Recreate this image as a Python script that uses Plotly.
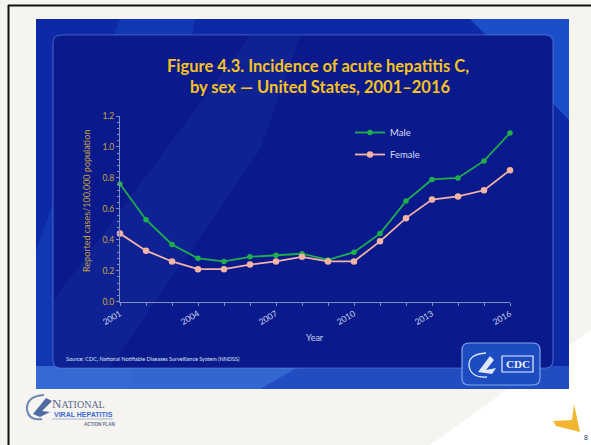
import plotly.graph_objects as go

years = list(range(2001, 2017))
male = [0.76, 0.53, 0.37, 0.28, 0.26, 0.29, 0.30, 0.31, 0.27, 0.32, 0.44, 0.65, 0.79, 0.80, 0.91, 1.09]
female = [0.44, 0.33, 0.26, 0.21, 0.21, 0.24, 0.26, 0.29, 0.26, 0.26, 0.39, 0.54, 0.66, 0.68, 0.72, 0.85]
x_tick_vals = [2001, 2004, 2007, 2010, 2013, 2016]
y_tick_vals = [0.0, 0.2, 0.4, 0.6, 0.8, 1.0, 1.2]

W, H = 591, 445


def px(x):
    return x / W


def py(y):
    return 1 - y / H


def rrect(x0, y0, x1, y1, r):
    pts = [
        f"M{px(x0 + r)},{py(y0)}",
        f"L{px(x1 - r)},{py(y0)}",
        f"Q{px(x1)},{py(y0)} {px(x1)},{py(y0 + r)}",
        f"L{px(x1)},{py(y1 - r)}",
        f"Q{px(x1)},{py(y1)} {px(x1 - r)},{py(y1)}",
        f"L{px(x0 + r)},{py(y1)}",
        f"Q{px(x0)},{py(y1)} {px(x0)},{py(y1 - r)}",
        f"L{px(x0)},{py(y0 + r)}",
        f"Q{px(x0)},{py(y0)} {px(x0 + r)},{py(y0)}",
        "Z",
    ]
    return " ".join(pts)


def poly(points):
    return "M" + " L".join(f"{px(x)},{py(y)}" for x, y in points) + " Z"


def ann(text, x, y, size, color, family="Lato", xanchor="center", yanchor="middle", **kw):
    return dict(text=text, x=px(x), y=py(y), xref="paper", yref="paper", showarrow=False,
                xanchor=xanchor, yanchor=yanchor, font=dict(family=family, size=size, color=color), **kw)


fig = go.Figure()

fig.add_trace(go.Scatter(
    x=years, y=male, name="Male", mode="lines+markers",
    line=dict(color="#1fae4c", width=1.8),
    marker=dict(color="#1fae4c", size=5.5, symbol="circle"),
    cliponaxis=False, legendgroup="m",
))
fig.add_trace(go.Scatter(
    x=years, y=female, name="Female", mode="lines+markers",
    line=dict(color="#f3b4a6", width=1.8),
    marker=dict(color="#f3b4a6", size=6.5, symbol="circle"),
    cliponaxis=False, legendgroup="f",
))

shapes = []
# slide background
shapes.append(dict(type="rect", xref="paper", yref="paper", x0=0, x1=1, y0=0, y1=1,
                   fillcolor="#f5f4f0", line=dict(width=0), layer="below"))
shapes.append(dict(type="path", xref="paper", yref="paper",
                   path=poly([(250, 445), (591, 445), (591, 330), (430, 445)]),
                   fillcolor="#ffffff", line=dict(width=0), layer="below"))
# black frame lines
shapes.append(dict(type="line", xref="paper", yref="paper", x0=px(8), x1=1, y0=py(5.5), y1=py(5.5),
                   line=dict(color="#111111", width=2), layer="below"))
shapes.append(dict(type="line", xref="paper", yref="paper", x0=px(8.5), x1=px(8.5), y0=py(5), y1=0,
                   line=dict(color="#111111", width=2), layer="below"))
# outer blue panel
shapes.append(dict(type="rect", xref="paper", yref="paper", x0=px(36), x1=px(569), y0=py(389), y1=py(19),
                   fillcolor="#0c2aa6", line=dict(width=0), layer="below"))
shapes.append(dict(type="path", xref="paper", yref="paper",
                   path=poly([(210, 19), (569, 19), (569, 120), (470, 19), (200, 19)]),
                   fillcolor="rgba(40,110,230,0.55)", line=dict(width=0), layer="below"))
shapes.append(dict(type="path", xref="paper", yref="paper",
                   path=poly([(120, 19), (195, 19), (130, 389), (36, 389), (36, 250)]),
                   fillcolor="rgba(30,80,200,0.35)", line=dict(width=0), layer="below"))
shapes.append(dict(type="path", xref="paper", yref="paper",
                   path=poly([(36, 366), (569, 366), (569, 389), (36, 389)]),
                   fillcolor="rgba(60,120,225,0.45)", line=dict(width=0), layer="below"))
shapes.append(dict(type="path", xref="paper", yref="paper",
                   path=poly([(36, 366), (300, 366), (260, 389), (36, 389)]),
                   fillcolor="rgba(90,150,235,0.35)", line=dict(width=0), layer="below"))
# inner panel
shapes.append(dict(type="path", xref="paper", yref="paper",
                   path=rrect(53, 35, 553, 368, 8),
                   fillcolor="#0a1a8c", line=dict(color="rgba(110,140,220,0.55)", width=1.2), layer="below"))
shapes.append(dict(type="path", xref="paper", yref="paper",
                   path=poly([(54, 300), (54, 367), (110, 367), (260, 150), (300, 36), (250, 36)]),
                   fillcolor="rgba(30,60,170,0.25)", line=dict(width=0), layer="below"))
# CDC logo box
shapes.append(dict(type="path", xref="paper", yref="paper",
                   path=rrect(462, 343, 540, 385, 7),
                   fillcolor="#1c4cc0", line=dict(color="#7fa6ec", width=1.2), layer="below"))
shapes.append(dict(type="path", xref="paper", yref="paper",
                   path=f"M{px(486)},{py(353)} Q{px(468)},{py(354)} {px(469)},{py(366)} Q{px(471)},{py(378)} {px(487)},{py(377)}",
                   line=dict(color="#dfe8fb", width=1.3), layer="below"))
shapes.append(dict(type="path", xref="paper", yref="paper",
                   path=poly([(478, 372), (490, 356), (494, 360), (486, 370), (496, 368), (492, 374)]),
                   fillcolor="#dfe8fb", line=dict(width=0), layer="below"))
shapes.append(dict(type="rect", xref="paper", yref="paper",
                   x0=px(502), x1=px(533), y0=py(372), y1=py(356),
                   fillcolor="#1c4cc0", line=dict(color="#e9eefb", width=1.2), layer="below"))
# national viral hepatitis emblem
shapes.append(dict(type="path", xref="paper", yref="paper",
                   path=f"M{px(44)},{py(395)} Q{px(26)},{py(396)} {px(27)},{py(410)} Q{px(29)},{py(421)} {px(42)},{py(419)}",
                   line=dict(color="#6d86b4", width=2), layer="below"))
shapes.append(dict(type="path", xref="paper", yref="paper",
                   path=poly([(33, 414), (46, 398), (52, 401), (42, 411), (50, 412), (40, 417)]),
                   fillcolor="#4e6aa0", line=dict(width=0), layer="below"))
shapes.append(dict(type="line", xref="paper", yref="paper", x0=px(52), x1=px(113), y0=py(419), y1=py(419),
                   line=dict(color="#9aa6c0", width=0.8), layer="below"))
# yellow arrow
shapes.append(dict(type="path", xref="paper", yref="paper",
                   path=poly([(553, 421), (572, 420), (574, 404), (580, 432), (556, 426)]),
                   fillcolor="#f2b530", line=dict(width=0), layer="below"))

annotations = [
    ann("<b>Figure 4.3. Incidence of acute hepatitis C,<br> by sex \u2014 United States, 2001\u20132016</b>",
        318, 76, 16.5, "#f6c320", align="center"),
    ann("Reported cases/100,000 population", 86, 201, 9, "#c9a13c", textangle=-90),
    ann("Year", 315, 337, 9, "#c6cfe8"),
    ann("Source: CDC, National Notifiable Diseases Surveillance System (NNDSS)", 64, 359, 5.5, "#dfe5f5",
        xanchor="left"),
    ann("<b>CDC</b>", 517.5, 364, 11, "#eef2fc", family="Liberation Serif"),
    ann("N<span style='font-size:10px'>ATIONAL</span>", 50, 403, 13, "#5a6a90",
        family="Liberation Serif", xanchor="left"),
    ann("<b>VIRAL HEPATITIS</b>", 52, 414, 7, "#3a6ad0", family="Liberation Sans", xanchor="left"),
    ann("<b>ACTION PLAN</b>", 82, 424, 4.5, "#667090", family="Liberation Sans", xanchor="left"),
    ann("8", 586, 437, 7, "#2a3a70", family="Liberation Sans"),
]

fig.update_layout(
    width=W, height=H,
    margin=dict(l=0, r=0, t=0, b=0, autoexpand=False),
    paper_bgcolor="#ffffff",
    plot_bgcolor="rgba(0,0,0,0)",
    shapes=shapes,
    annotations=annotations,
    showlegend=True,
    legend=dict(x=px(350), y=py(118), xanchor="left", yanchor="top",
                bgcolor="rgba(0,0,0,0)", font=dict(family="Lato", size=9.5, color="#d5dcf2"),
                tracegroupgap=3, itemwidth=30),
    xaxis=dict(domain=[px(120), px(510)], range=[2001, 2016], automargin=False,
               tickvals=x_tick_vals, ticktext=[str(v) for v in x_tick_vals],
               tickangle=-30, ticks="outside", ticklen=3, tickcolor="#7f8fc0",
               showline=True, linecolor="#7f8fc0", linewidth=1, showgrid=False, zeroline=False,
               minor=dict(dtick=1, ticks="outside", ticklen=3, tickcolor="#7f8fc0", showgrid=False),
               tickfont=dict(family="Lato", size=8.5, color="#cdd5ee")),
    yaxis=dict(domain=[py(301.7), py(116)], range=[0, 1.2], automargin=False,
               tickvals=y_tick_vals, ticktext=[f"{v:.1f}" for v in y_tick_vals],
               ticks="outside", ticklen=3, tickcolor="#7f8fc0",
               showline=True, linecolor="#7f8fc0", linewidth=1, showgrid=False, zeroline=False,
               minor=dict(dtick=0.04, ticks="outside", ticklen=2, tickcolor="#7f8fc0", showgrid=False),
               tickfont=dict(family="Lato", size=8.5, color="#c9a13c")),
)

fig.write_html("out.html", config={"displayModeBar": False},
               post_script="document.body.style.margin='0';document.body.style.overflow='hidden';")
